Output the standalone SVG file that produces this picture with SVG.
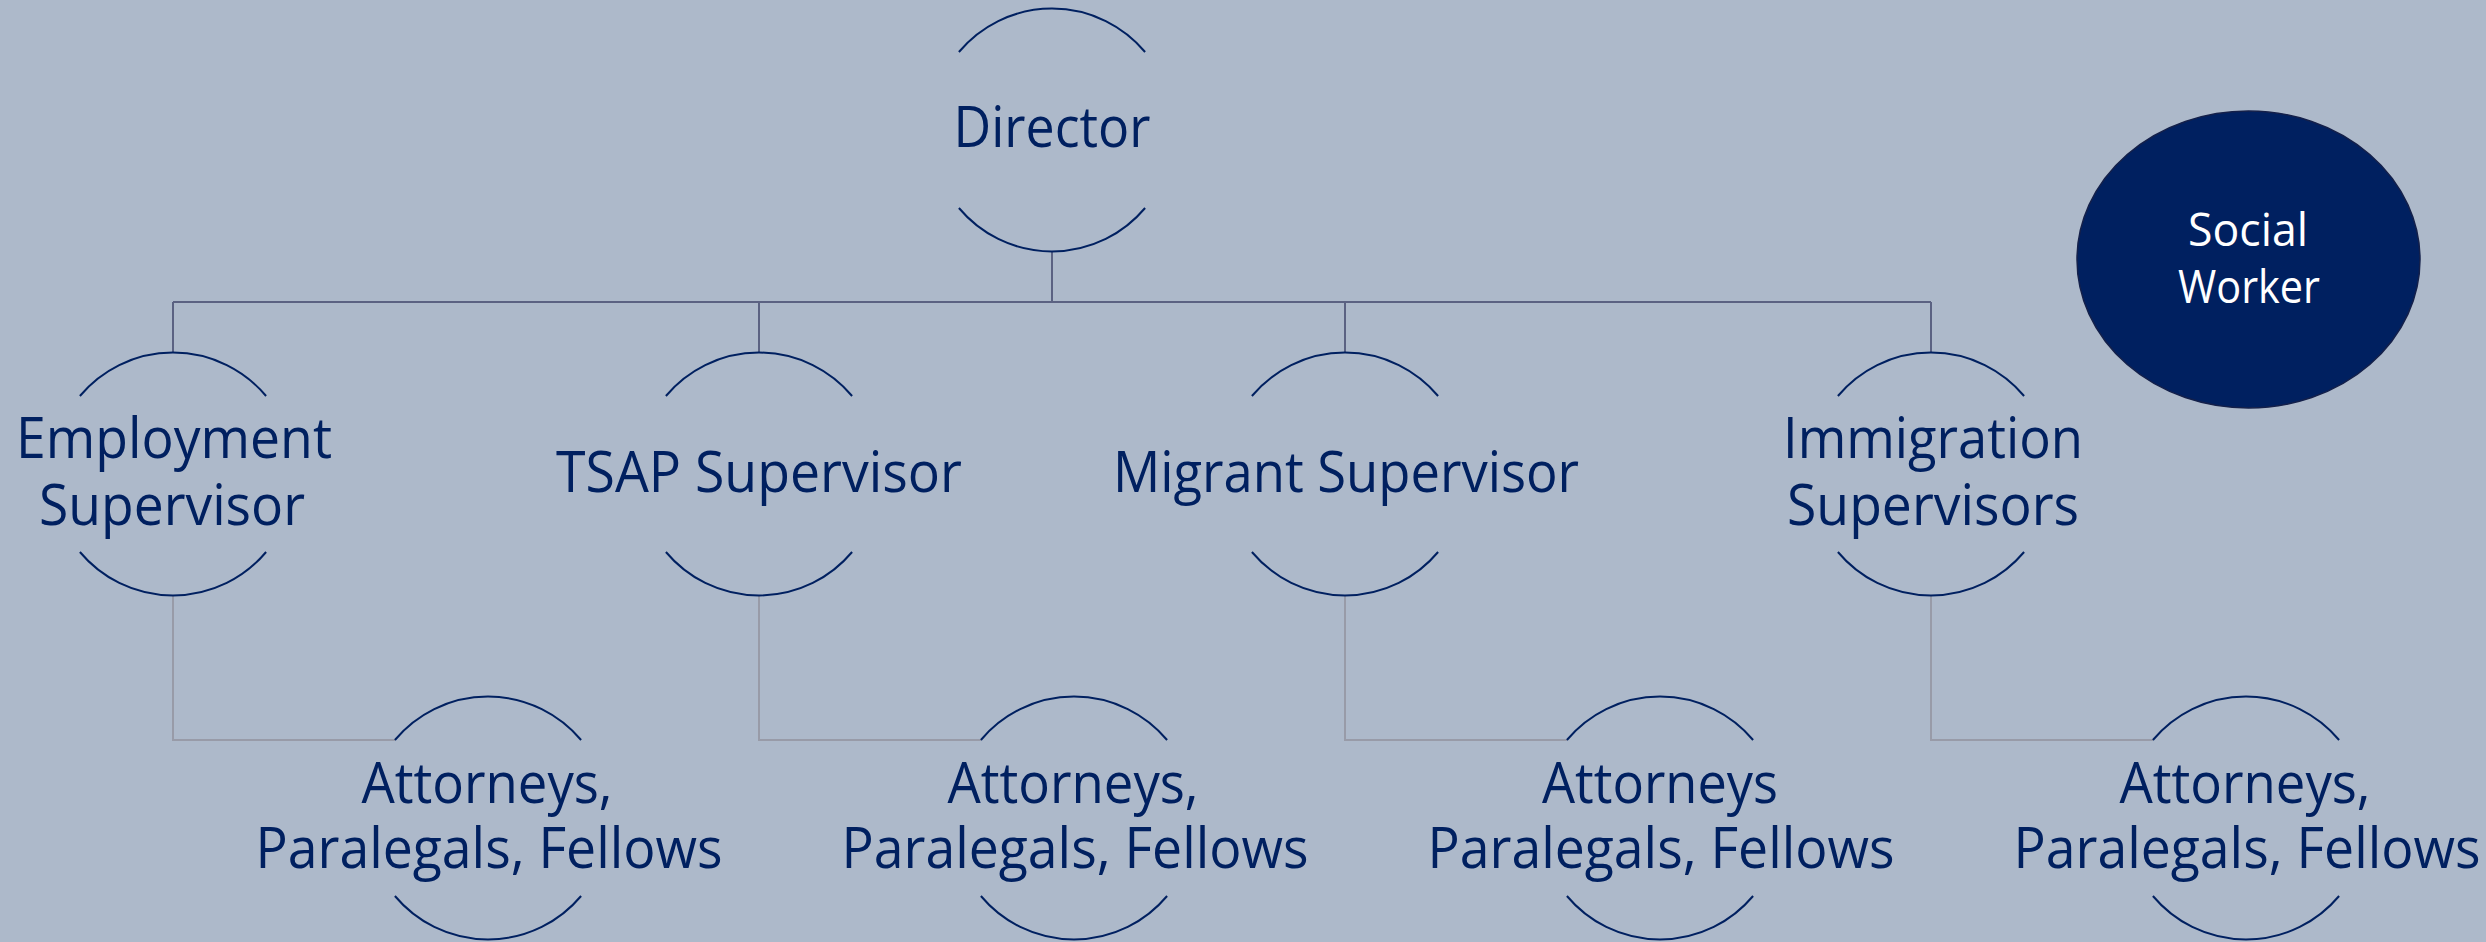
<svg xmlns="http://www.w3.org/2000/svg" width="2486" height="942" viewBox="0 0 2486 942">
  <defs>
    <style>
      .bg { fill: #ADB9CA; }
      .arc { fill: none; stroke: #002060; stroke-width: 2; }
      .lbl { font-family: "Open Sans", "Lato", sans-serif; font-size: 56px; fill: #002060; text-anchor: middle; }
      .lbl-sm { font-family: "Open Sans", "Lato", sans-serif; font-size: 46px; fill: #FFFFFF; text-anchor: middle; }
      .link-top { fill: none; stroke: #5B6282; stroke-width: 2; }
      .link-low { fill: none; stroke: #989BA8; stroke-width: 2; }
      .solid { fill: #002060; stroke: #14204A; stroke-width: 1.5; }
    </style>
  </defs>

  <rect class="bg" x="0" y="0" width="2486" height="942"/>

  <!-- connectors -->
  <g id="connectors">
    <path class="link-top" d="M1052 251.5 V302 M173 302 H1931 M173 302 V352.5 M759 302 V352.5 M1345 302 V352.5 M1931 302 V352.5"/>
    <path class="link-low" d="M173 595.5 V740 H395"/>
    <path class="link-low" d="M759 595.5 V740 H981"/>
    <path class="link-low" d="M1345 595.5 V740 H1567"/>
    <path class="link-low" d="M1931 595.5 V740 H2153"/>
  </g>

  <!-- top level -->
  <g id="director">
    <path class="arc" d="M958.9 52 A121.5 121.5 0 0 1 1145.1 52 M958.9 208 A121.5 121.5 0 0 0 1145.1 208"/>
    <text class="lbl" x="1052" y="147" textLength="197" lengthAdjust="spacingAndGlyphs">Director</text>
  </g>

  <g id="social-worker">
    <ellipse class="solid" cx="2248.5" cy="259.5" rx="171.5" ry="148.5"/>
    <text class="lbl-sm" x="2248" y="246" textLength="120" lengthAdjust="spacingAndGlyphs">Social</text>
    <text class="lbl-sm" x="2249" y="303" textLength="142" lengthAdjust="spacingAndGlyphs">Worker</text>
  </g>

  <!-- supervisors -->
  <g id="employment-supervisor">
    <path class="arc" d="M79.9 396 A121.5 121.5 0 0 1 266.1 396 M79.9 552 A121.5 121.5 0 0 0 266.1 552"/>
    <text class="lbl" x="174" y="458" textLength="316" lengthAdjust="spacingAndGlyphs">Employment</text>
    <text class="lbl" x="172" y="525" textLength="266" lengthAdjust="spacingAndGlyphs">Supervisor</text>
  </g>

  <g id="tsap-supervisor">
    <path class="arc" d="M665.9 396 A121.5 121.5 0 0 1 852.1 396 M665.9 552 A121.5 121.5 0 0 0 852.1 552"/>
    <text class="lbl" x="759" y="492" textLength="406" lengthAdjust="spacingAndGlyphs">TSAP Supervisor</text>
  </g>

  <g id="migrant-supervisor">
    <path class="arc" d="M1251.9 396 A121.5 121.5 0 0 1 1438.1 396 M1251.9 552 A121.5 121.5 0 0 0 1438.1 552"/>
    <text class="lbl" x="1346" y="492" textLength="466" lengthAdjust="spacingAndGlyphs">Migrant Supervisor</text>
  </g>

  <g id="immigration-supervisors">
    <path class="arc" d="M1837.9 396 A121.5 121.5 0 0 1 2024.1 396 M1837.9 552 A121.5 121.5 0 0 0 2024.1 552"/>
    <text class="lbl" x="1933" y="458" textLength="300" lengthAdjust="spacingAndGlyphs">Immigration</text>
    <text class="lbl" x="1933" y="525" textLength="292" lengthAdjust="spacingAndGlyphs">Supervisors</text>
  </g>

  <!-- staff -->
  <g id="employment-staff">
    <path class="arc" d="M394.9 740 A121.5 121.5 0 0 1 581.1 740 M394.9 896 A121.5 121.5 0 0 0 581.1 896"/>
    <text class="lbl" x="487" y="803" textLength="251" lengthAdjust="spacingAndGlyphs">Attorneys,</text>
    <text class="lbl" x="489" y="868" textLength="467" lengthAdjust="spacingAndGlyphs">Paralegals, Fellows</text>
  </g>

  <g id="tsap-staff">
    <path class="arc" d="M980.9 740 A121.5 121.5 0 0 1 1167.1 740 M980.9 896 A121.5 121.5 0 0 0 1167.1 896"/>
    <text class="lbl" x="1073" y="803" textLength="251" lengthAdjust="spacingAndGlyphs">Attorneys,</text>
    <text class="lbl" x="1075" y="868" textLength="467" lengthAdjust="spacingAndGlyphs">Paralegals, Fellows</text>
  </g>

  <g id="migrant-staff">
    <path class="arc" d="M1566.9 740 A121.5 121.5 0 0 1 1753.1 740 M1566.9 896 A121.5 121.5 0 0 0 1753.1 896"/>
    <text class="lbl" x="1660" y="803" textLength="236" lengthAdjust="spacingAndGlyphs">Attorneys</text>
    <text class="lbl" x="1661" y="868" textLength="467" lengthAdjust="spacingAndGlyphs">Paralegals, Fellows</text>
  </g>

  <g id="immigration-staff">
    <path class="arc" d="M2152.9 740 A121.5 121.5 0 0 1 2339.1 740 M2152.9 896 A121.5 121.5 0 0 0 2339.1 896"/>
    <text class="lbl" x="2245" y="803" textLength="251" lengthAdjust="spacingAndGlyphs">Attorneys,</text>
    <text class="lbl" x="2247" y="868" textLength="467" lengthAdjust="spacingAndGlyphs">Paralegals, Fellows</text>
  </g>
</svg>
